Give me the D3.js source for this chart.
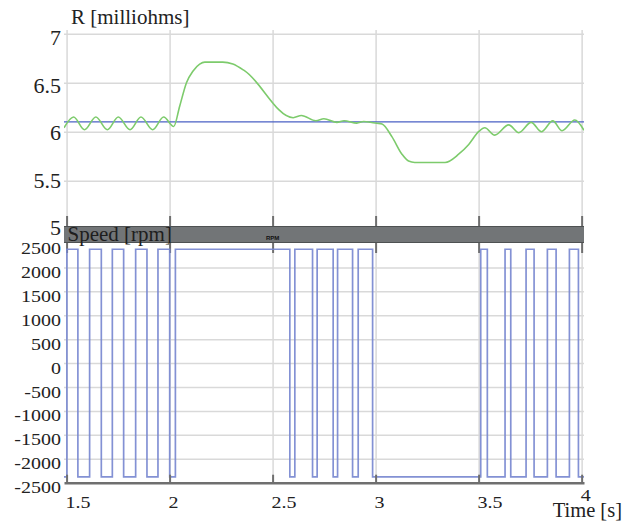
<!DOCTYPE html>
<html>
<head>
<meta charset="utf-8">
<script src="https://cdn.jsdelivr.net/npm/d3@7"></script>
<style>
  body { margin: 0; background: #fff; }
  svg { display: block; }
</style>
</head>
<body>
<svg id="chart" width="632" height="522"></svg>
<script>
// ---- data ----
const timeTicks = [1.5, 2, 2.5, 3, 3.5, 4];
const rTicks = [5, 5.5, 6, 6.5, 7];
const speedTicks = [-2500, -2000, -1500, -1000, -500, 0, 500, 1000, 1500, 2000, 2500];

// nominal resistance reference
const rNominal = 6.1;

// measured resistance trace
const rTime = [1.4875, 1.534, 1.587, 1.642, 1.698, 1.751, 1.808, 1.861, 1.918, 1.971,
  2.020, 2.049, 2.082, 2.114, 2.146, 2.171, 2.258, 2.307, 2.365, 2.600,
  2.640, 2.710, 2.749, 2.812, 2.847, 2.909, 2.942, 2.974, 3.006, 3.031,
  3.079, 3.128, 3.160, 3.190, 3.337, 3.403, 3.452, 3.500, 3.530, 3.578,
  3.646, 3.695, 3.755, 3.805, 3.860, 3.905, 3.967, 4.0115];
const rValue = [6.04, 6.15, 6.02, 6.15, 6.02, 6.15, 6.02, 6.15, 6.02, 6.15,
  6.053, 6.26, 6.50, 6.62, 6.69, 6.71, 6.71, 6.69, 6.62, 6.143,
  6.165, 6.112, 6.132, 6.095, 6.112, 6.088, 6.104, 6.097, 6.087, 6.078,
  5.95, 5.77, 5.70, 5.686, 5.686, 5.77, 5.87, 6.0, 6.04, 5.965,
  6.07, 5.99, 6.095, 6.0, 6.11, 6.01, 6.12, 6.015];

// motor speed, piecewise constant (value holds until the next time)
const speedTime = [1.4875, 1.5015, 1.5549, 1.6118, 1.6686, 1.7221, 1.7770, 1.8353, 1.8902,
  1.9436, 2.0005, 2.0282, 2.5836, 2.6079, 2.6939, 2.7162, 2.7940, 2.8154, 2.8882,
  2.9155, 2.9854, 3.5102, 3.5423, 3.6283, 3.6560, 3.7303, 3.7692, 3.8338, 3.8761,
  3.9407, 3.9845, 4.0115];
const speedValue = [-2380, 2380, -2380, 2380, -2380, 2380, -2380, 2380, -2380,
  2380, -2380, 2380, -2380, 2380, -2380, 2380, -2380, 2380, -2380,
  2380, -2380, 2380, -2380, 2380, -2380, 2380, -2380, 2380, -2380,
  2380, -2380, -2380];

// ---- layout ----
const serif = "'Liberation Serif', 'Times New Roman', Times, serif";
const svg = d3.select("#chart");
const left = 64, right = 584;
const topPanel = { y0: 30, y1: 226 };
const bar = { y0: 226, y1: 243 };
const botPanel = { y0: 243, y1: 482.7 };

const x = d3.scaleLinear().domain([1.4875, 4.0115]).range([left, right]);
const yR = d3.scaleLinear().domain([5, 7]).range([229.7, 33.7]);
const yRLabel = d3.scaleLinear().domain([5, 7]).range([235, 45]);
const yS = d3.scaleLinear().domain([-2500, 2500]).range([482.7, 243.5]);

const gridColor = "#d9d9d9";
const tickColor = "#6f6f6f";
const textColor = "#222";

const defs = svg.append("defs");
defs.append("clipPath").attr("id", "clipTop").append("rect")
  .attr("x", left).attr("y", topPanel.y0).attr("width", right - left).attr("height", topPanel.y1 - topPanel.y0);
defs.append("clipPath").attr("id", "clipBot").append("rect")
  .attr("x", left).attr("y", bar.y1).attr("width", right - left).attr("height", botPanel.y1 - bar.y1);

function styleGrid(g, color, width) {
  g.select(".domain").remove();
  g.selectAll(".tick line").attr("stroke", color).attr("stroke-width", width);
  g.selectAll(".tick text").remove();
}

function label(sel) {
  return sel.attr("font-family", serif).style("font-family", serif).attr("fill", textColor);
}

// ---- top panel: resistance ----
svg.append("g").attr("transform", `translate(${left},0)`)
  .call(d3.axisLeft(yR).tickValues([5.5, 6, 6.5, 7]).tickSize(-(right - left)).tickFormat(""))
  .call(g => styleGrid(g, gridColor, 1.5));

svg.append("g").attr("transform", `translate(0,${topPanel.y1})`)
  .call(d3.axisBottom(x).tickValues(timeTicks).tickSize(-(topPanel.y1 - topPanel.y0)).tickFormat(""))
  .call(g => styleGrid(g, gridColor, 1.5));

svg.append("g").attr("transform", `translate(0,${topPanel.y1})`)
  .call(d3.axisBottom(x).tickValues(timeTicks).tickSize(-10).tickFormat(""))
  .call(g => styleGrid(g, tickColor, 2));

const topLines = svg.append("g").attr("clip-path", "url(#clipTop)");
topLines.append("path")
  .datum(x.domain())
  .attr("fill", "none").attr("stroke", "#4a60c4").attr("stroke-width", 1.4)
  .attr("d", d3.line().x(d => x(d)).y(() => yR(rNominal)));

topLines.append("path")
  .datum(rTime.map((t, i) => [t, rValue[i]]))
  .attr("fill", "none").attr("stroke", "#7dcb6c").attr("stroke-width", 1.6)
  .attr("d", d3.line().x(d => x(d[0])).y(d => yR(d[1])).curve(d3.curveMonotoneX));

svg.append("g").selectAll("text").data(rTicks).join("text")
  .attr("x", 61).attr("y", d => yRLabel(d))
  .attr("text-anchor", "end").attr("font-size", 22)
  .call(label)
  .text(d => String(d));

svg.append("text").attr("x", 71).attr("y", 23.5).attr("font-size", 21).call(label).text("R [milliohms]");

// ---- separator bar ----
svg.append("rect").attr("x", left).attr("y", bar.y0).attr("width", right - left).attr("height", bar.y1 - bar.y0)
  .attr("fill", "#727577");
svg.append("line").attr("x1", left).attr("x2", right).attr("y1", bar.y0 + 0.5).attr("y2", bar.y0 + 0.5)
  .attr("stroke", "#4e5152").attr("stroke-width", 1);
svg.append("line").attr("x1", left).attr("x2", right).attr("y1", bar.y1 - 0.5).attr("y2", bar.y1 - 0.5)
  .attr("stroke", "#4e5152").attr("stroke-width", 1);
svg.append("text").attr("x", 67.5).attr("y", 241).attr("font-size", 21).call(label)
  .attr("fill", "#1e1e1e").text("Speed [rpm]");
svg.append("text").attr("x", x(2.5)).attr("y", 240).attr("text-anchor", "middle")
  .attr("font-size", 6).attr("font-weight", "bold")
  .attr("font-family", "'Liberation Sans', Arial, sans-serif").attr("fill", "#111").text("RPM");

// ---- bottom panel: speed ----
svg.append("g").attr("transform", `translate(${left},0)`)
  .call(d3.axisLeft(yS).tickValues(speedTicks.filter(v => Math.abs(v) < 2500)).tickSize(-(right - left)).tickFormat(""))
  .call(g => styleGrid(g, gridColor, 1.5));

svg.append("g").attr("transform", `translate(0,${botPanel.y1})`)
  .call(d3.axisBottom(x).tickValues(timeTicks).tickSize(-(botPanel.y1 - bar.y1)).tickFormat(""))
  .call(g => styleGrid(g, gridColor, 1.5));

svg.append("g").attr("transform", `translate(0,${bar.y1})`)
  .call(d3.axisTop(x).tickValues(timeTicks).tickSize(-10).tickFormat(""))
  .call(g => styleGrid(g, tickColor, 2));

svg.append("path")
  .datum(speedTime.map((t, i) => [t, speedValue[i]]))
  .attr("clip-path", "url(#clipBot)")
  .attr("fill", "none").attr("stroke", "#7685cf").attr("stroke-width", 1.7).attr("stroke-opacity", 0.9)
  .attr("d", d3.line().x(d => x(d[0])).y(d => yS(d[1])).curve(d3.curveStepAfter));

// bottom axis line with short upward ticks
svg.append("g").attr("transform", `translate(0,${botPanel.y1})`)
  .call(d3.axisBottom(x).tickValues(timeTicks).tickSize(-8).tickSizeOuter(0).tickFormat(""))
  .call(g => {
    g.select(".domain").attr("stroke", tickColor).attr("stroke-width", 2.5);
    g.selectAll(".tick line").attr("stroke", tickColor).attr("stroke-width", 2);
  });

// tick labels of the speed panel are set slightly condensed vertically
svg.append("g").selectAll("text").data(speedTicks).join("text")
  .attr("transform", d => `translate(61,${yS(d) + 10.5}) scale(1,0.86)`)
  .attr("text-anchor", "end").attr("font-size", 20)
  .call(label)
  .text(d => String(d));

svg.append("g").selectAll("text").data(timeTicks).join("text")
  .attr("transform", d => `translate(${x(d) - 1},${d === 4 ? 500.5 : 508.3}) scale(1,0.86)`)
  .attr("text-anchor", "start").attr("font-size", 20)
  .call(label)
  .text(d => String(d));

svg.append("text").attr("x", 552.7).attr("y", 517).attr("font-size", 20.5).call(label).text("Time [s]");
</script>
</body>
</html>
